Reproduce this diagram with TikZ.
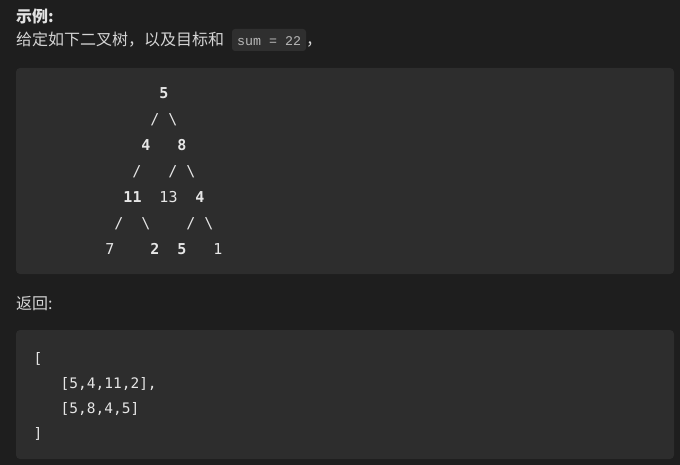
\documentclass[tikz,border=0pt]{standalone}
\usepackage{fontspec}
\usepackage{xcolor}
\newfontfamily\cjk{Noto Sans CJK SC}
\newfontfamily\codefont{DejaVu Sans Mono}
\newfontfamily\inlinefont{Liberation Mono}
\definecolor{pagebg}{HTML}{1E1E1E}
\definecolor{codebg}{HTML}{2D2D2D}
\definecolor{inlinebg}{HTML}{2F2F2F}
\definecolor{textfg}{HTML}{D4D4D4}
\definecolor{headfg}{HTML}{E2E2E2}
\definecolor{codefg}{HTML}{E6E6E6}
\definecolor{inlinefg}{HTML}{B8B8B8}

\begin{document}
\begin{tikzpicture}[x=1pt,y=-1pt,
	txt/.style={font=\cjk\fontsize{16}{20}\selectfont, text=textfg, inner sep=0pt, anchor=base west},
	head/.style={txt, font=\cjk\bfseries\fontsize{16}{20}\selectfont, text=headfg},
	box/.style={fill=codebg, rounded corners=4pt},
	sl/.style={font=\codefont\fontsize{15}{18}\selectfont, text=codefg, inner sep=0pt, anchor=base},
	val/.style={sl, font=\codefont\bfseries\fontsize{15}{18}\selectfont},
	res/.style={font=\codefont\fontsize{14.5}{18}\selectfont, text=codefg, inner sep=0pt, anchor=base west}]
	
	% page and code blocks
	\fill[pagebg] (0,0) rectangle (680,465);
	\fill[box] (16,68) rectangle (674,274);
	\fill[box] (16,330) rectangle (674,459);
	
	% heading
	\node[head] (title) at (16,23) {示例:};
	\node[txt] (given) at (16,45.5) {给定如下二叉树，以及目标和};
	\fill[inlinebg, rounded corners=3pt] (232,29) rectangle (306,51);
	\node[font=\inlinefont\fontsize{13.3}{16}\selectfont, text=inlinefg, inner sep=0pt, anchor=base west] (sum) at (237,46) {sum = 22};
	\node[txt] (comma) at (306,45.5) {，};
	
	% tree
	\node[val] (n5) at (164,98.5) {5};
	\node[sl] (s1) at (155,124.5) {/};
	\node[sl] (s2) at (173,124.5) {\textbackslash};
	
	\node[val] (n4) at (146,150.5) {4};
	\node[val] (n8) at (182,150.5) {8};
	\node[sl] (s3) at (137,176.5) {/};
	\node[sl] (s4) at (173,176.5) {/};
	\node[sl] (s5) at (191,176.5) {\textbackslash};
	
	\node[val] (n11) at (132.5,202.5) {11};
	\node[sl] (n13) at (168.5,202.5) {13};
	\node[val] (n4b) at (200,202.5) {4};
	\node[sl] (s6) at (119,228.5) {/};
	\node[sl] (s7) at (146,228.5) {\textbackslash};
	\node[sl] (s8) at (191,228.5) {/};
	\node[sl] (s9) at (209,228.5) {\textbackslash};
	
	\node[sl] (n7) at (110,254.5) {7};
	\node[val] (n2) at (155,254.5) {2};
	\node[val] (n5b) at (182,254.5) {5};
	\node[sl] (n1) at (218,254.5) {1};
	
	% result
	\node[txt] (ret) at (16,309) {返回:};
	\node[res] (open) at (33.5,363) {[};
	\node[res] (path1) at (60.5,388.5) {[5,4,11,2],};
	\node[res] (path2) at (60.5,413.5) {[5,8,4,5]};
	\node[res] (close) at (33.5,438) {]};
	
\end{tikzpicture}
\end{document}
